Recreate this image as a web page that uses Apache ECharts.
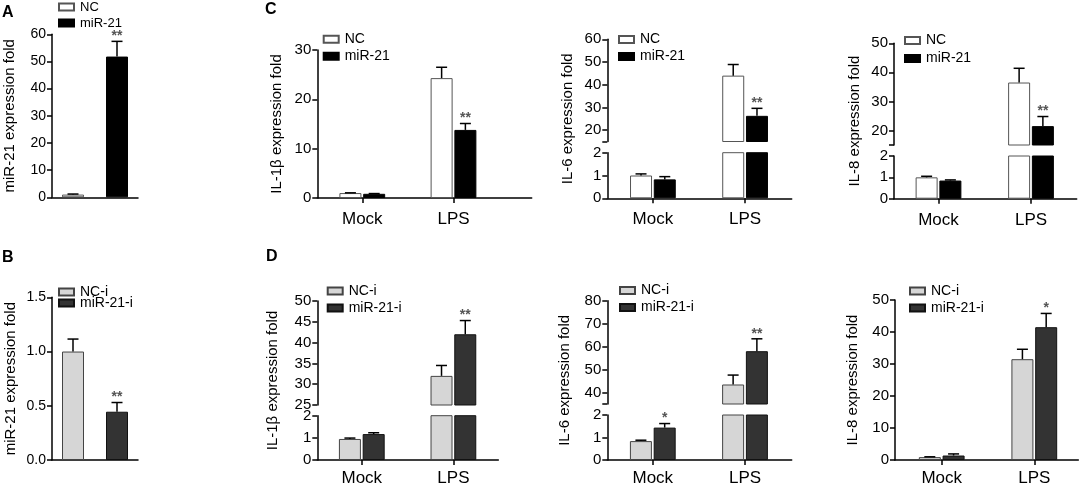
<!DOCTYPE html>
<html><head><meta charset="utf-8">
<script src="https://cdn.jsdelivr.net/npm/echarts@6/dist/echarts.min.js"></script>
<style>html,body{margin:0;padding:0;background:#fff}#c{width:1084px;height:488px}</style>
</head><body><div id="c"></div>
<script>
// ---------------- DATA ----------------
const groups = ['Mock', 'LPS'];
const namesOE = ['NC', 'miR-21'];
const namesKD = ['NC-i', 'miR-21-i'];

// Panel A: miR-21 expression fold (overexpression)
const aMean = [1.0, 51.8];
const aErr = [0.2, 5.6];
const aStars = ['', '**'];
const aTicks = [0, 10, 20, 30, 40, 50, 60];

// Panel B: miR-21 expression fold (inhibition)
const bMean = [1.0, 0.445];
const bErr = [0.115, 0.085];
const bStars = ['', '**'];
const bTicks = [0, 0.5, 1.0, 1.5];

// Panel C1: IL-1β
const c1NC = [1.0, 24.3], c1NCErr = [0.05, 2.2], c1NCStars = ['', ''];
const c1Mi = [0.85, 13.8], c1MiErr = [0.05, 1.3], c1MiStars = ['', '**'];
const c1Ticks = [0, 10, 20, 30];
// Panel C2: IL-6 (broken axis)
const c2NC = [1.0, 44.0], c2NCErr = [0.07, 4.9], c2NCStars = ['', ''];
const c2Mi = [0.83, 26.3], c2MiErr = [0.12, 3.3], c2MiStars = ['', '**'];
const c2UpperTicks = [15, 20, 30, 40, 50, 60], c2UpperLabels = [20, 30, 40, 50, 60];
const c2LowerTicks = [0, 1, 2];
// Panel C3: IL-8 (broken axis)
const c3NC = [1.0, 36.5], c3NCErr = [0.05, 4.9], c3NCStars = ['', ''];
const c3Mi = [0.85, 21.5], c3MiErr = [0.03, 3.3], c3MiStars = ['', '**'];
const c3UpperTicks = [15, 20, 30, 40, 50], c3UpperLabels = [20, 30, 40, 50];
const c3LowerTicks = [0, 1, 2];

// Panel D1: IL-1β (broken axis)
const d1NC = [0.95, 32.0], d1NCErr = [0.04, 2.5], d1NCStars = ['', ''];
const d1Mi = [1.17, 42.0], d1MiErr = [0.06, 3.3], d1MiStars = ['', '**'];
const d1UpperTicks = [25, 30, 35, 40, 45, 50], d1UpperLabels = [25, 30, 35, 40, 45, 50];
const d1LowerTicks = [0, 1, 2];
// Panel D2: IL-6 (broken axis)
const d2NC = [0.84, 43.5], d2NCErr = [0.04, 4.1], d2NCStars = ['', ''];
const d2Mi = [1.44, 58.0], d2MiErr = [0.18, 5.4], d2MiStars = ['*', '**'];
const d2UpperTicks = [35, 40, 50, 60, 70, 80], d2UpperLabels = [40, 50, 60, 70, 80];
const d2LowerTicks = [0, 1, 2];
// Panel D3: IL-8
const d3NC = [0.9, 31.5], d3NCErr = [0.1, 3.1], d3NCStars = ['', ''];
const d3Mi = [1.4, 41.5], d3MiErr = [0.5, 4.3], d3MiStars = ['', '*'];
const d3Ticks = [0, 10, 20, 30, 40, 50];

// ---------------- STYLE / LAYOUT ----------------
const FONT = '"Liberation Sans", Arial, Helvetica, sans-serif';
const BAR_W = 22, BAR_GAP = 0.08;
const OFF = BAR_W / 2 + BAR_W * BAR_GAP / 2;
const STYLE = {
  'NC': { color: '#ffffff', borderColor: '#555555', borderWidth: 1 },
  'miR-21': { color: '#000000', borderColor: '#000000', borderWidth: 1 },
  'NC-i': { color: '#d6d6d6', borderColor: '#444444', borderWidth: 1 },
  'miR-21-i': { color: '#333333', borderColor: '#111111', borderWidth: 1 }
};
const option = { animation: false, backgroundColor: '#ffffff', title: [], legend: [], grid: [], xAxis: [], yAxis: [], series: [] };

function addGrid(l, t, w, h) {
  option.grid.push({ left: l, top: t, width: w, height: h, containLabel: false });
  return option.grid.length - 1;
}
function addY(gi, c) {
  const ax = {
    gridIndex: gi, type: 'value', min: c.min, max: c.max, splitLine: { show: false },
    axisLine: { show: true, onZero: false, lineStyle: { color: '#000', width: 1.5 } },
    axisTick: { show: true, length: 5, lineStyle: { color: '#000', width: 1.5 } },
    axisLabel: { color: '#000', fontSize: c.fs || 15, fontFamily: FONT, margin: 6 }
  };
  if (c.ticks) ax.axisTick.customValues = c.ticks;
  if (c.labels) ax.axisLabel.customValues = c.labels;
  if (c.fmt) ax.axisLabel.formatter = c.fmt;
  if (c.name) {
    ax.name = c.name; ax.nameLocation = 'middle'; ax.nameGap = c.gap;
    ax.nameTextStyle = { fontSize: 15, fontFamily: FONT, color: '#000' };
  }
  option.yAxis.push(ax);
  return option.yAxis.length - 1;
}
function addNameAxis(gi, name, gap) {
  option.xAxis.push({ gridIndex: gi, type: 'value', show: false });
  option.yAxis.push({
    gridIndex: gi, type: 'value', min: 0, max: 1, axisLine: { show: false }, axisTick: { show: false },
    axisLabel: { show: false }, splitLine: { show: false }, name, nameLocation: 'middle', nameGap: gap,
    nameTextStyle: { fontSize: 15, fontFamily: FONT, color: '#000' }
  });
}
function addXGrouped(gi, L, show, margin) {
  const pos = groups.map((g, i) => i + 0.5);
  const xMin = 0.5 - (L.first - L.l) / L.sp;
  option.xAxis.push({
    gridIndex: gi, type: 'value', min: xMin, max: xMin + L.w / L.sp, show, splitLine: { show: false },
    axisLine: { show: true, onZero: false, lineStyle: { color: '#000', width: 1.5 } },
    axisTick: { show: true, length: 5, customValues: pos, lineStyle: { color: '#000', width: 1.5 } },
    axisLabel: { customValues: pos, formatter: v => groups[Math.round(v - 0.5)] || '', fontSize: 17, fontFamily: FONT, color: '#000', margin }
  });
  return option.xAxis.length - 1;
}
function makeErr(offset, stars, lo, hi) {
  return function (params, api) {
    const x = api.value(0), m = api.value(1), e = api.value(2);
    if (!(m >= lo && m + e <= hi)) return null;
    const p0 = api.coord([x, m]), p1 = api.coord([x, m + e]);
    const cx = p0[0] + offset;
    const ch = [
      { type: 'line', shape: { x1: cx, y1: p0[1], x2: cx, y2: p1[1] }, style: { stroke: '#000', lineWidth: 1.5 } },
      { type: 'line', shape: { x1: cx - 5.5, y1: p1[1], x2: cx + 5.5, y2: p1[1] }, style: { stroke: '#000', lineWidth: 1.5 } }
    ];
    const s = stars[params.dataIndex];
    if (s) ch.push({ type: 'text', x: cx, y: p1[1] - 12, style: { text: s, fill: '#555', font: 'bold 14px ' + FONT, align: 'center', verticalAlign: 'top' } });
    return { type: 'group', children: ch };
  };
}
function addBars(xi, yi, name, mean) {
  option.series.push({
    type: 'bar', name, xAxisIndex: xi, yAxisIndex: yi, data: groups.map((g, i) => [i + 0.5, mean[i]]),
    barWidth: BAR_W, barGap: (BAR_GAP * 100) + '%', itemStyle: STYLE[name], clip: true, silent: true, z: 2
  });
}
function addErr(xi, yi, mean, err, stars, offset, lo, hi) {
  option.series.push({
    type: 'custom', xAxisIndex: xi, yAxisIndex: yi, data: groups.map((g, i) => [i + 0.5, mean[i], err[i]]),
    renderItem: makeErr(offset, stars, lo, hi), silent: true, z: 5
  });
}
function addLegend(names, left, top, fs, gap) {
  option.legend.push({
    data: names, orient: 'vertical', left, top, padding: 0, itemWidth: 15, itemHeight: 7, itemGap: gap,
    icon: 'rect', selectedMode: false, textStyle: { fontSize: fs, fontFamily: FONT, color: '#000', padding: [0, 0, 0, 1] }
  });
}
function addTitle(t, left, top) {
  option.title.push({ text: t, left, top, padding: 0, textStyle: { fontSize: 16, fontWeight: 'bold', fontFamily: FONT, color: '#000' } });
}

// single-category panel (A, B)
function panelSingle(L, names, mean, err, stars, yCfg) {
  const gi = addGrid(L.l, L.t, L.w, L.h);
  option.xAxis.push({
    gridIndex: gi, type: 'category', data: [''], axisLine: { show: true, onZero: false, lineStyle: { color: '#000', width: 1.5 } },
    axisTick: { show: false }, axisLabel: { show: false }
  });
  const xi = option.xAxis.length - 1;
  const yi = addY(gi, yCfg);
  names.forEach((n, k) => {
    option.series.push({ type: 'bar', name: n, xAxisIndex: xi, yAxisIndex: yi, data: [mean[k]], barWidth: BAR_W, barGap: '100%', itemStyle: STYLE[n], silent: true });
    option.series.push({
      type: 'custom', xAxisIndex: xi, yAxisIndex: yi, data: [[0, mean[k], err[k]]],
      renderItem: makeErr((k === 0 ? -1 : 1) * BAR_W, [stars[k]], -Infinity, Infinity), silent: true, z: 5
    });
  });
}
// grouped panel, continuous axis
function panelGrouped(L, names, means, errs, stars, yCfg, margin) {
  const gi = addGrid(L.l, L.t, L.w, L.h);
  const xi = addXGrouped(gi, L, true, margin);
  const yi = addY(gi, yCfg);
  names.forEach((n, k) => addBars(xi, yi, n, means[k]));
  names.forEach((n, k) => addErr(xi, yi, means[k], errs[k], stars[k], (k === 0 ? -1 : 1) * OFF, -Infinity, Infinity));
}
// grouped panel, broken axis
function panelBroken(L, names, means, errs, stars, up, low, yName, margin) {
  const gu = addGrid(L.l, L.tu, L.w, L.hu);
  const xu = addXGrouped(gu, L, false, margin);
  const yu = addY(gu, up);
  const gl = addGrid(L.l, L.tl, L.w, L.hl);
  const xl = addXGrouped(gl, L, true, margin);
  const yl = addY(gl, low);
  names.forEach((n, k) => { addBars(xu, yu, n, means[k]); addBars(xl, yl, n, means[k]); });
  names.forEach((n, k) => {
    const o = (k === 0 ? -1 : 1) * OFF;
    addErr(xu, yu, means[k], errs[k], stars[k], o, up.min, up.max);
    addErr(xl, yl, means[k], errs[k], stars[k], o, low.min, low.max);
  });
  const gn = addGrid(L.l, L.tu, L.w, L.tl + L.hl - L.tu);
  addNameAxis(gn, yName, L.gap);
}

// ---- A ----
panelSingle({ l: 52, t: 34.3, w: 86, h: 163 }, namesOE, aMean, aErr, aStars,
  { min: aTicks[0], max: aTicks[aTicks.length - 1], ticks: aTicks, labels: aTicks, fs: 14, name: 'miR-21 expression fold', gap: 34.5 });
addLegend(namesOE, 58, 0.5, 13, 3);
addTitle('A', 2, 5);
// ---- B ----
panelSingle({ l: 52, t: 297.3, w: 86, h: 162.7 }, namesKD, bMean, bErr, bStars,
  { min: bTicks[0], max: bTicks[bTicks.length - 1], ticks: bTicks, labels: bTicks, fs: 14, fmt: v => v.toFixed(1), name: 'miR-21 expression fold', gap: 34 });
addLegend(namesKD, 58, 285, 14, -3);
addTitle('B', 2, 250);

// ---- C ----
panelGrouped({ l: 317.3, t: 50, w: 214.4, h: 148, first: 362.3, sp: 91.2 }, namesOE, [c1NC, c1Mi], [c1NCErr, c1MiErr], [c1NCStars, c1MiStars],
  { min: 0, max: 30, ticks: c1Ticks, labels: c1Ticks, name: 'IL-1β expression fold', gap: 33.3 }, 13);
addLegend(namesOE, 322.7, 32.3, 14, 3);
addTitle('C', 265, 2);

panelBroken({ l: 607.3, w: 184.4, first: 652.9, sp: 92.2, tu: 39.3, hu: 102.2, tl: 152.7, hl: 45.6, gap: 31.5 }, namesOE,
  [c2NC, c2Mi], [c2NCErr, c2MiErr], [c2NCStars, c2MiStars],
  { min: 15, max: 60, ticks: c2UpperTicks, labels: c2UpperLabels }, { min: 0, max: 2, ticks: c2LowerTicks, labels: c2LowerTicks },
  'IL-6 expression fold', 13);
addLegend(namesOE, 618, 32.5, 14, 3);

panelBroken({ l: 894, w: 182.7, first: 938.5, sp: 92.5, tu: 43.3, hu: 101.7, tl: 156, hl: 42.7, gap: 31.2 }, namesOE,
  [c3NC, c3Mi], [c3NCErr, c3MiErr], [c3NCStars, c3MiStars],
  { min: 15, max: 50, ticks: c3UpperTicks, labels: c3UpperLabels }, { min: 0, max: 2, ticks: c3LowerTicks, labels: c3LowerTicks },
  'IL-8 expression fold', 13);
addLegend(namesOE, 904, 33.5, 14, 4);

// ---- D ----
panelBroken({ l: 317.3, w: 181, first: 361.8, sp: 91.6, tu: 301, hu: 104, tl: 415.7, hl: 44.3, gap: 36.5 }, namesKD,
  [d1NC, d1Mi], [d1NCErr, d1MiErr], [d1NCStars, d1MiStars],
  { min: 25, max: 50, ticks: d1UpperTicks, labels: d1UpperLabels }, { min: 0, max: 2, ticks: d1LowerTicks, labels: d1LowerTicks },
  'IL-1β expression fold', 10);
addLegend(namesKD, 326.7, 284, 14, 3);
addTitle('D', 266, 249);

panelBroken({ l: 607.3, w: 184.4, first: 652.8, sp: 92.2, tu: 300.7, hu: 103.3, tl: 415, hl: 45, gap: 34.8 }, namesKD,
  [d2NC, d2Mi], [d2NCErr, d2MiErr], [d2NCStars, d2MiStars],
  { min: 35, max: 80, ticks: d2UpperTicks, labels: d2UpperLabels }, { min: 0, max: 2, ticks: d2LowerTicks, labels: d2LowerTicks },
  'IL-6 expression fold', 10);
addLegend(namesKD, 619, 283.5, 14, 3);

panelGrouped({ l: 895, t: 300, w: 183.3, h: 160, first: 941.7, sp: 92.6 }, namesKD, [d3NC, d3Mi], [d3NCErr, d3MiErr], [d3NCStars, d3MiStars],
  { min: 0, max: 50, ticks: d3Ticks, labels: d3Ticks, name: 'IL-8 expression fold', gap: 34.2 }, 10);
addLegend(namesKD, 909, 284, 14, 3);

const chart = echarts.init(document.getElementById('c'), null, { renderer: 'canvas' });
chart.setOption(option);
</script>
</body></html>
